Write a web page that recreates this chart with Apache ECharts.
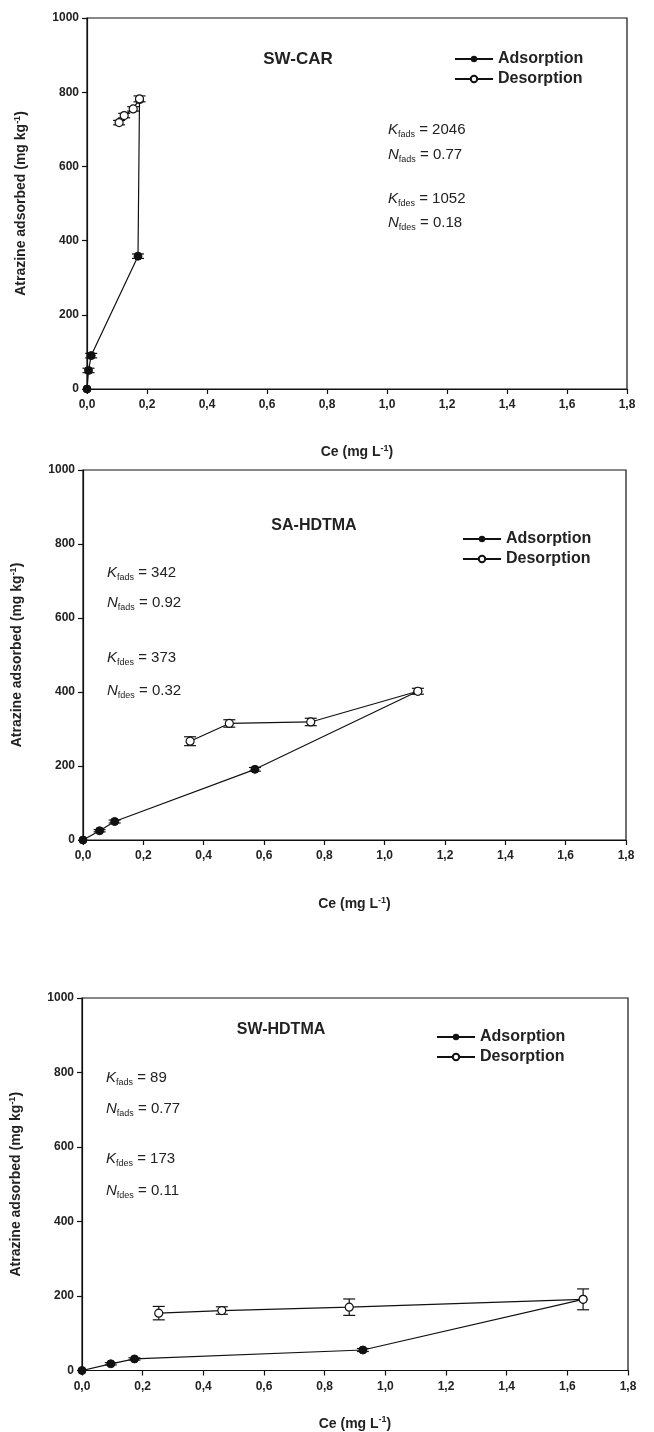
<!DOCTYPE html>
<html>
<head>
<meta charset="utf-8">
<script src="https://cdn.jsdelivr.net/npm/echarts@6/dist/echarts.min.js"></script>
<style>
html,body{margin:0;padding:0;background:#fff;}
#c{width:654px;height:1432px;}
</style>
</head>
<body>
<div id="c"></div>
<script>
// ---------- DATA ----------
const panelTitles = ['SW-CAR', 'SA-HDTMA', 'SW-HDTMA'];
const xTicks = [0, 0.2, 0.4, 0.6, 0.8, 1.0, 1.2, 1.4, 1.6, 1.8];
const yTicks = [0, 200, 400, 600, 800, 1000];

// SW-CAR
const swcarAdsX = [0, 0.005, 0.014, 0.17, 0.175];
const swcarAdsY = [0, 50, 90, 358, 780];
const swcarAdsErr = [0, 6, 6, 6, 0];
const swcarDesX = [0.175, 0.154, 0.124, 0.107];
const swcarDesY = [782, 755, 737, 718];
const swcarDesErr = [8, 6, 6, 6];

// SA-HDTMA
const sahAdsX = [0, 0.055, 0.105, 0.57, 1.11];
const sahAdsY = [0, 25, 50, 191, 402];
const sahAdsErr = [0, 3, 4, 5, 0];
const sahDesX = [1.11, 0.755, 0.485, 0.355];
const sahDesY = [402, 319, 315, 267];
const sahDesErr = [8, 10, 10, 12];

// SW-HDTMA
const swhAdsX = [0, 0.095, 0.173, 0.926, 1.652];
const swhAdsY = [0, 18, 31, 55, 191];
const swhAdsErr = [0, 3, 3, 4, 0];
const swhDesX = [1.652, 0.881, 0.461, 0.253];
const swhDesY = [191, 170, 161, 154];
const swhDesErr = [28, 22, 10, 18];

const annotations = [
  [['K','fads','2046'],['N','fads','0.77'],['K','fdes','1052'],['N','fdes','0.18']],
  [['K','fads','342'],['N','fads','0.92'],['K','fdes','373'],['N','fdes','0.32']],
  [['K','fads','89'],['N','fads','0.77'],['K','fdes','173'],['N','fdes','0.11']]
];

// ---------- LAYOUT ----------
const FONT = 'Liberation Sans, Arial, sans-serif';
const grids = [
  {left: 87, top: 18, width: 540, height: 371},
  {left: 83, top: 470, width: 543, height: 370},
  {left: 82, top: 998, width: 546, height: 378}
];
const xNameGap = [55, 56, 45];
const titlePos = [[298, 59], [314, 526], [281, 1030]];
const titleSize = [17, 16, 16];
const legendPos = [[449, 46], [457, 526], [431, 1024]];
const annoPos = [[388, [122, 147, 191, 215]], [107, [565, 595, 650, 683]], [106, [1070, 1101, 1151, 1183]]];

const adsSets = [[swcarAdsX, swcarAdsY, swcarAdsErr], [sahAdsX, sahAdsY, sahAdsErr], [swhAdsX, swhAdsY, swhAdsErr]];
const desSets = [[swcarDesX, swcarDesY, swcarDesErr], [sahDesX, sahDesY, sahDesErr], [swhDesX, swhDesY, swhDesErr]];

function pts(xs, ys) { return xs.map((x, i) => [x, ys[i]]); }
function errPts(xs, ys, es) { return xs.map((x, i) => [x, ys[i], ys[i] - es[i], ys[i] + es[i]]); }

function errRender(params, api) {
  const x = api.value(0), lo = api.value(2), hi = api.value(3);
  if (hi - lo <= 0) return null;
  const a = api.coord([x, lo]), b = api.coord([x, hi]);
  const w = 6;
  const st = {stroke: '#111', lineWidth: 1.2};
  return {type: 'group', children: [
    {type: 'line', shape: {x1: a[0], y1: a[1], x2: b[0], y2: b[1]}, style: st},
    {type: 'line', shape: {x1: a[0] - w, y1: a[1], x2: a[0] + w, y2: a[1]}, style: st},
    {type: 'line', shape: {x1: b[0] - w, y1: b[1], x2: b[0] + w, y2: b[1]}, style: st}
  ]};
}

const supRich = {sup: {fontSize: 9, fontWeight: 'bold', fontFamily: FONT, color: '#222', verticalAlign: 'top', padding: [0, 0, 8, 0]}};
const xAxes = [], yAxes = [], series = [], legends = [], graphics = [];
grids.forEach((g, i) => {
  xAxes.push({
    type: 'value', gridIndex: i, min: 0, max: 1.8, interval: 0.2,
    axisLine: {lineStyle: {color: '#111', width: 1.2}},
    axisTick: {show: true, inside: false, length: 5, lineStyle: {color: '#111', width: 1.2}},
    splitLine: {show: false},
    axisLabel: {
      color: '#222', fontFamily: FONT, fontWeight: 'bold', fontSize: 12, margin: 10,
      formatter: v => v.toFixed(1).replace('.', ',')
    },
    name: 'Ce (mg L{sup|-1})', nameLocation: 'middle', nameGap: xNameGap[i],
    nameTextStyle: {color: '#222', fontFamily: FONT, fontWeight: 'bold', fontSize: 14, rich: supRich}
  });
  yAxes.push({
    type: 'value', gridIndex: i, min: 0, max: 1000, interval: 200,
    axisLine: {lineStyle: {color: '#111', width: 1.2}},
    axisTick: {show: true, inside: false, length: 5, lineStyle: {color: '#111', width: 1.2}},
    splitLine: {show: false},
    axisLabel: {color: '#222', fontFamily: FONT, fontWeight: 'bold', fontSize: 12, margin: 8,
      formatter: v => String(v)},
    name: 'Atrazine adsorbed (mg kg{sup|-1})', nameLocation: 'middle', nameGap: 57, nameRotate: 90,
    nameTextStyle: {color: '#222', fontFamily: FONT, fontWeight: 'bold', fontSize: 14, rich: supRich}
  });
  const ads = adsSets[i], des = desSets[i];
  series.push({
    type: 'custom', name: 'err-ads-' + i, xAxisIndex: i, yAxisIndex: i,
    renderItem: errRender, data: errPts(ads[0], ads[1], ads[2]), z: 1, silent: true,
    encode: {x: 0, y: [1, 2, 3]}
  });
  series.push({
    type: 'custom', name: 'err-des-' + i, xAxisIndex: i, yAxisIndex: i,
    renderItem: errRender, data: errPts(des[0], des[1], des[2]), z: 1, silent: true,
    encode: {x: 0, y: [1, 2, 3]}
  });
  series.push({
    type: 'line', name: 'Adsorption', xAxisIndex: i, yAxisIndex: i,
    data: pts(ads[0], ads[1]), symbol: 'circle', symbolSize: 8,
    lineStyle: {color: '#111', width: 1.2}, itemStyle: {color: '#111', borderColor: '#111'},
    z: 3, animation: false
  });
  series.push({
    type: 'line', name: 'Desorption', xAxisIndex: i, yAxisIndex: i,
    data: pts(des[0], des[1]), symbol: 'circle', symbolSize: 8,
    lineStyle: {color: '#111', width: 1.2}, itemStyle: {color: '#fff', borderColor: '#111', borderWidth: 1.2},
    z: 4, animation: false
  });
  legends.push({
    data: ['Adsorption', 'Desorption'], orient: 'vertical',
    left: legendPos[i][0], top: legendPos[i][1], itemWidth: 38, itemHeight: 8, itemGap: 4,
    selectedMode: false,
    textStyle: {color: '#222', fontFamily: FONT, fontWeight: 'bold', fontSize: 16}
  });
  graphics.push({
    type: 'text', x: titlePos[i][0], y: titlePos[i][1],
    style: {text: panelTitles[i], fill: '#222', font: 'bold ' + titleSize[i] + 'px ' + FONT, align: 'center', verticalAlign: 'middle'}
  });
  annotations[i].forEach((a, j) => {
    graphics.push({
      type: 'text', left: annoPos[i][0], top: annoPos[i][1][j],
      style: {
        text: '{v|' + a[0] + '}{s|' + a[1] + '}{n| = ' + a[2] + '}',
        rich: {
          v: {fontFamily: FONT, fontStyle: 'italic', fontSize: 15, fill: '#222', lineHeight: 20, verticalAlign: 'middle'},
          s: {fontFamily: FONT, fontSize: 9, fill: '#222', lineHeight: 20, verticalAlign: 'bottom', padding: [7, 0, 0, 0]},
          n: {fontFamily: FONT, fontSize: 15, fill: '#222', lineHeight: 20, verticalAlign: 'middle'}
        }
      }
    });
  });
});

const gridOpts = grids.map(g => Object.assign({show: true, borderColor: '#111', borderWidth: 1.2, backgroundColor: 'transparent'}, g));

const chart = echarts.init(document.getElementById('c'), null, {renderer: 'canvas'});
chart.setOption({
  animation: false,
  backgroundColor: '#fff',
  grid: gridOpts,
  xAxis: xAxes,
  yAxis: yAxes,
  legend: legends,
  series: series,
  graphic: graphics
});
</script>
</body>
</html>
